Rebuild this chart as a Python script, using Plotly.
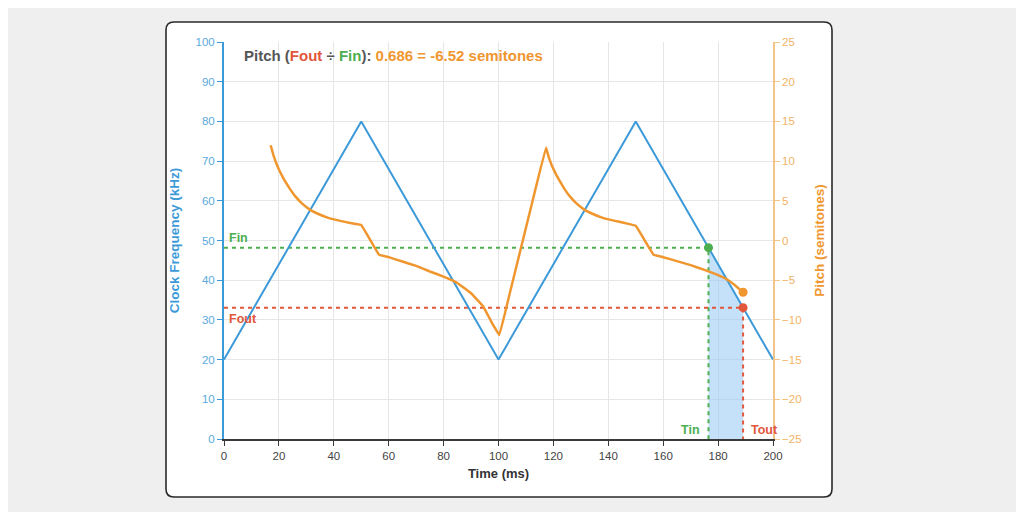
import plotly.graph_objects as go

# ---- data ----
clock_time = [0, 50, 100, 150, 200]
clock_khz = [20, 80, 20, 80, 20]

pitch_time = [17, 18, 19, 20, 21, 22, 24, 26, 28, 31, 34, 38, 42, 46, 50,
              56.5, 60, 65, 70, 75, 80, 85, 90, 94.5, 97.5, 100.3,
              104, 108, 112, 117.3,
              118.3, 119.3, 120.3, 121.3, 122.3, 124, 126, 128, 131, 134, 138, 142, 146, 150,
              156.5, 160, 165, 170, 175, 180, 183, 186, 189.1]
pitch_st = [12.0, 10.75, 9.75, 8.95, 8.25, 7.6, 6.5, 5.55, 4.8, 3.95, 3.4, 2.85, 2.5, 2.2, 1.95,
            -1.8, -2.1, -2.65, -3.2, -3.9, -4.55, -5.35, -6.65, -8.34, -10.3, -11.9,
            -6.8, -1.2, 4.4, 11.7,
            10.5, 9.55, 8.8, 8.1, 7.5, 6.5, 5.55, 4.8, 3.95, 3.4, 2.85, 2.5, 2.2, 1.85,
            -1.8, -2.1, -2.6, -3.1, -3.7, -4.35, -4.85, -5.6, -6.52]

t_in = 176.5
t_out = 189.1
f_in = 48.2
f_out = 33.08
ratio_txt = "0.686"
semitone_txt = "-6.52"

x_ticks = list(range(0, 201, 20))
left_ticks = list(range(0, 101, 10))
right_ticks = list(range(-25, 26, 5))

BLUE = "#3d9ad8"
ORANGE = "#f0962f"
ORANGE_LIGHT = "#f3b266"
GREEN = "#4cae4f"
RED = "#e2563b"
DARK = "#3a3a3a"

fig = go.Figure()

# shaded area between Tin and Tout under clock line
fig.add_trace(go.Scatter(x=[t_in, t_out], y=[f_in, f_out], mode="lines", fill="tozeroy",
                         line=dict(width=0, color=BLUE), fillcolor="rgba(150,200,245,0.55)",
                         hoverinfo="skip", showlegend=False))

# Fin / Fout guides
fig.add_trace(go.Scatter(x=[0, t_in, t_in], y=[f_in, f_in, 0], mode="lines",
                         line=dict(color=GREEN, width=2, dash="4px,4px"), showlegend=False))
fig.add_trace(go.Scatter(x=[0, t_out, t_out], y=[f_out, f_out, 0], mode="lines",
                         line=dict(color=RED, width=2, dash="4px,4px"), showlegend=False))

# clock line
fig.add_trace(go.Scatter(x=clock_time, y=clock_khz, mode="lines",
                         line=dict(color=BLUE, width=2), showlegend=False))

# pitch curve
fig.add_trace(go.Scatter(x=pitch_time, y=pitch_st, mode="lines", yaxis="y2",
                         line=dict(color=ORANGE, width=2.5, shape="spline", smoothing=0.15),
                         showlegend=False))
fig.add_trace(go.Scatter(x=[pitch_time[-1]], y=[pitch_st[-1]], mode="markers", yaxis="y2",
                         marker=dict(color=ORANGE, size=9), showlegend=False, cliponaxis=False))

# points
fig.add_trace(go.Scatter(x=[t_in], y=[f_in], mode="markers", marker=dict(color=GREEN, size=9),
                         showlegend=False, cliponaxis=False))
fig.add_trace(go.Scatter(x=[t_out], y=[f_out], mode="markers", marker=dict(color=RED, size=9),
                         showlegend=False, cliponaxis=False))

# card shape (paper coords relative to plot area; plot area x 224..773, y 42..439 px on screen)
def px(x):
    return (x - 224) / 549.0

def py(y):
    return (439 - y) / 397.0

x0, x1, y0, y1 = px(166), px(832), py(497), py(22)
rx, ry = 8 / 549.0, 8 / 397.0
card_path = (f"M {x0+rx},{y0} L {x1-rx},{y0} Q {x1},{y0} {x1},{y0+ry} L {x1},{y1-ry} "
             f"Q {x1},{y1} {x1-rx},{y1} L {x0+rx},{y1} Q {x0},{y1} {x0},{y1-ry} "
             f"L {x0},{y0+ry} Q {x0},{y0} {x0+rx},{y0} Z")
fig.add_shape(type="path", path=card_path, xref="paper", yref="paper",
              fillcolor="white", line=dict(color="#2a2a2a", width=1.6), layer="below")

title_html = (f"<b><span style='color:#555555'>Pitch (</span><span style='color:{RED}'>Fout</span>"
              f"<span style='color:#555555'> ÷ </span><span style='color:{GREEN}'>Fin</span>"
              f"<span style='color:#555555'>):</span> <span style='color:{ORANGE}'>{ratio_txt} = {semitone_txt} semitones</span></b>")
fig.add_annotation(text=title_html, xref="paper", yref="paper", x=px(242), y=py(55),
                   xanchor="left", yanchor="middle", showarrow=False, font=dict(size=15))

lab_font = dict(size=12.5, family="Liberation Sans, Arial, sans-serif")
fig.add_annotation(text="<b>Fin</b>", x=0, y=f_in, xanchor="left", yanchor="bottom", xshift=3, yshift=1,
                   showarrow=False, font=dict(color=GREEN, **lab_font))
fig.add_annotation(text="<b>Fout</b>", x=0, y=f_out, xanchor="left", yanchor="top", xshift=3, yshift=-2,
                   showarrow=False, font=dict(color=RED, **lab_font))
fig.add_annotation(text="<b>Tin</b>", x=t_in, y=0, xanchor="right", yanchor="bottom", xshift=-6, yshift=0,
                   showarrow=False, font=dict(color=GREEN, **lab_font))
fig.add_annotation(text="<b>Tout</b>", x=t_out, y=0, xanchor="left", yanchor="bottom", xshift=6, yshift=0,
                   showarrow=False, font=dict(color=RED, **lab_font))

fig.update_layout(
    width=1024, height=512,
    margin=dict(l=216, r=259, t=34, b=81),
    paper_bgcolor="#efefef",
    plot_bgcolor="rgba(0,0,0,0)",
    font=dict(family="Liberation Sans, Arial, sans-serif", size=11, color="#555555"),
    xaxis=dict(range=[0, 200], tickvals=x_ticks, showgrid=True, gridcolor="#e6e6e6", gridwidth=1,
               zeroline=False, showline=True, linecolor=DARK, linewidth=2,
               ticks="outside", ticklen=5, tickcolor=DARK, tickfont=dict(color="#444444", size=11.5),
               title=dict(text="<b>Time (ms)</b>", font=dict(size=13, color="#333333"), standoff=8)),
    yaxis=dict(range=[0, 100], tickvals=left_ticks, showgrid=True, gridcolor="#e6e6e6", gridwidth=1,
               zeroline=False, showline=True, linecolor=BLUE, linewidth=2,
               ticks="outside", ticklen=5, tickcolor=BLUE, tickfont=dict(color="#5aa9de", size=11.5),
               title=dict(text="<b>Clock Frequency (kHz)</b>", font=dict(size=13.5, color=BLUE), standoff=13)),
    yaxis2=dict(range=[-25, 25], tickvals=right_ticks, overlaying="y", side="right", showgrid=False,
                zeroline=False, showline=True, linecolor="#f2c48a", linewidth=1.5,
                ticks="outside", ticklen=5, tickcolor="#f2c48a", tickfont=dict(color=ORANGE_LIGHT, size=11.5),
                title=dict(text="<b>Pitch (semitones)</b>", font=dict(size=13.5, color=ORANGE), standoff=14)),
)

fig.write_html("out.html")
